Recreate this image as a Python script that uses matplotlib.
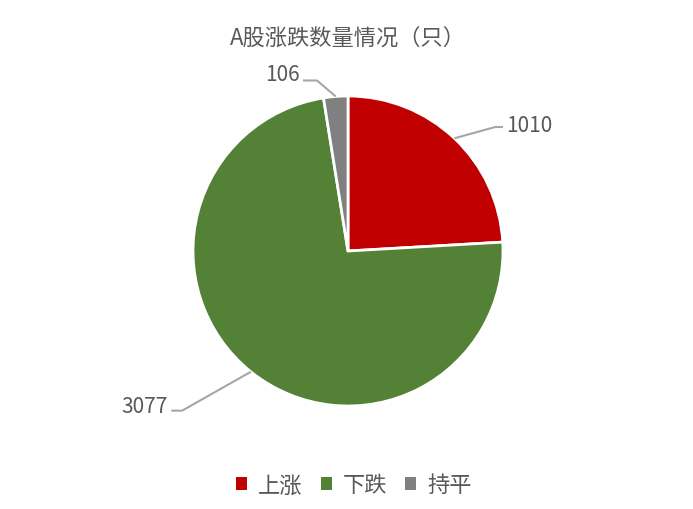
import numpy as np
import matplotlib.pyplot as plt
from matplotlib.patches import Patch

plt.rcParams['font.family'] = ['Noto Sans CJK SC', 'DejaVu Sans']

categories = ["上涨", "下跌", "持平"]
values = [1010, 3077, 106]
colors = ["#C00000", "#538135", "#808080"]
title = "A股涨跌数量情况（只）"

text_color = "#595959"
line_color = "#A6A6A6"


def main():
    fig = plt.figure(figsize=(6.93, 5.10), dpi=100)
    # square axes so radius 1 ~ 155 px, centred on (348, 252) px
    W, H = 693, 510
    cx, cy, r = 348, 252, 155
    ax = fig.add_axes([(cx - r) / W, (H - cy - r) / H, 2 * r / W, 2 * r / H])

    wedges, _ = ax.pie(values, colors=colors, startangle=90, counterclock=False,
                       radius=1.0,
                       wedgeprops=dict(edgecolor="white", linewidth=2))
    ax.set_xlim(-1, 1)
    ax.set_ylim(-1, 1)
    ax.set_aspect("equal")
    ax.axis("off")

    # elbow point, line end and text offset for each label (layout only)
    elbows = [(0.95, 0.80), (-1.07, -1.03), (-0.2, 1.10)]
    ends = [(1.0, 0.80), (-1.14, -1.03), (-0.29, 1.10)]
    lifts = [0.01, 0.03, 0.04]
    aligns = ["left", "right", "right"]
    for w, v, elb, end, lift, ha in zip(wedges, values, elbows, ends, lifts, aligns):
        mid = np.deg2rad((w.theta1 + w.theta2) / 2)
        px, py = np.cos(mid), np.sin(mid)
        ax.plot([px, elb[0], end[0]], [py, elb[1], end[1]], color=line_color,
                lw=1.5, clip_on=False, solid_capstyle="butt")
        dx = 0.02 if ha == "left" else -0.02
        ax.text(end[0] + dx, end[1] + lift, str(v), ha=ha, va="center",
                fontsize=15, color=text_color, clip_on=False)

    fig.text(cx / W, 1 - 38 / H, title, ha="center", va="center",
             fontsize=16, color=text_color)

    handles = [Patch(facecolor=c, edgecolor="none") for c in colors]
    fig.legend(handles, categories, loc="center", bbox_to_anchor=(354 / W, 1 - 486 / H),
               ncol=3, frameon=False, fontsize=16, handlelength=0.5, handleheight=0.5,
               handletextpad=0.5, columnspacing=0.8, labelcolor=text_color)

    fig.savefig("out.png", dpi=100, facecolor="white")
    plt.close(fig)


if __name__ == "__main__":
    main()
